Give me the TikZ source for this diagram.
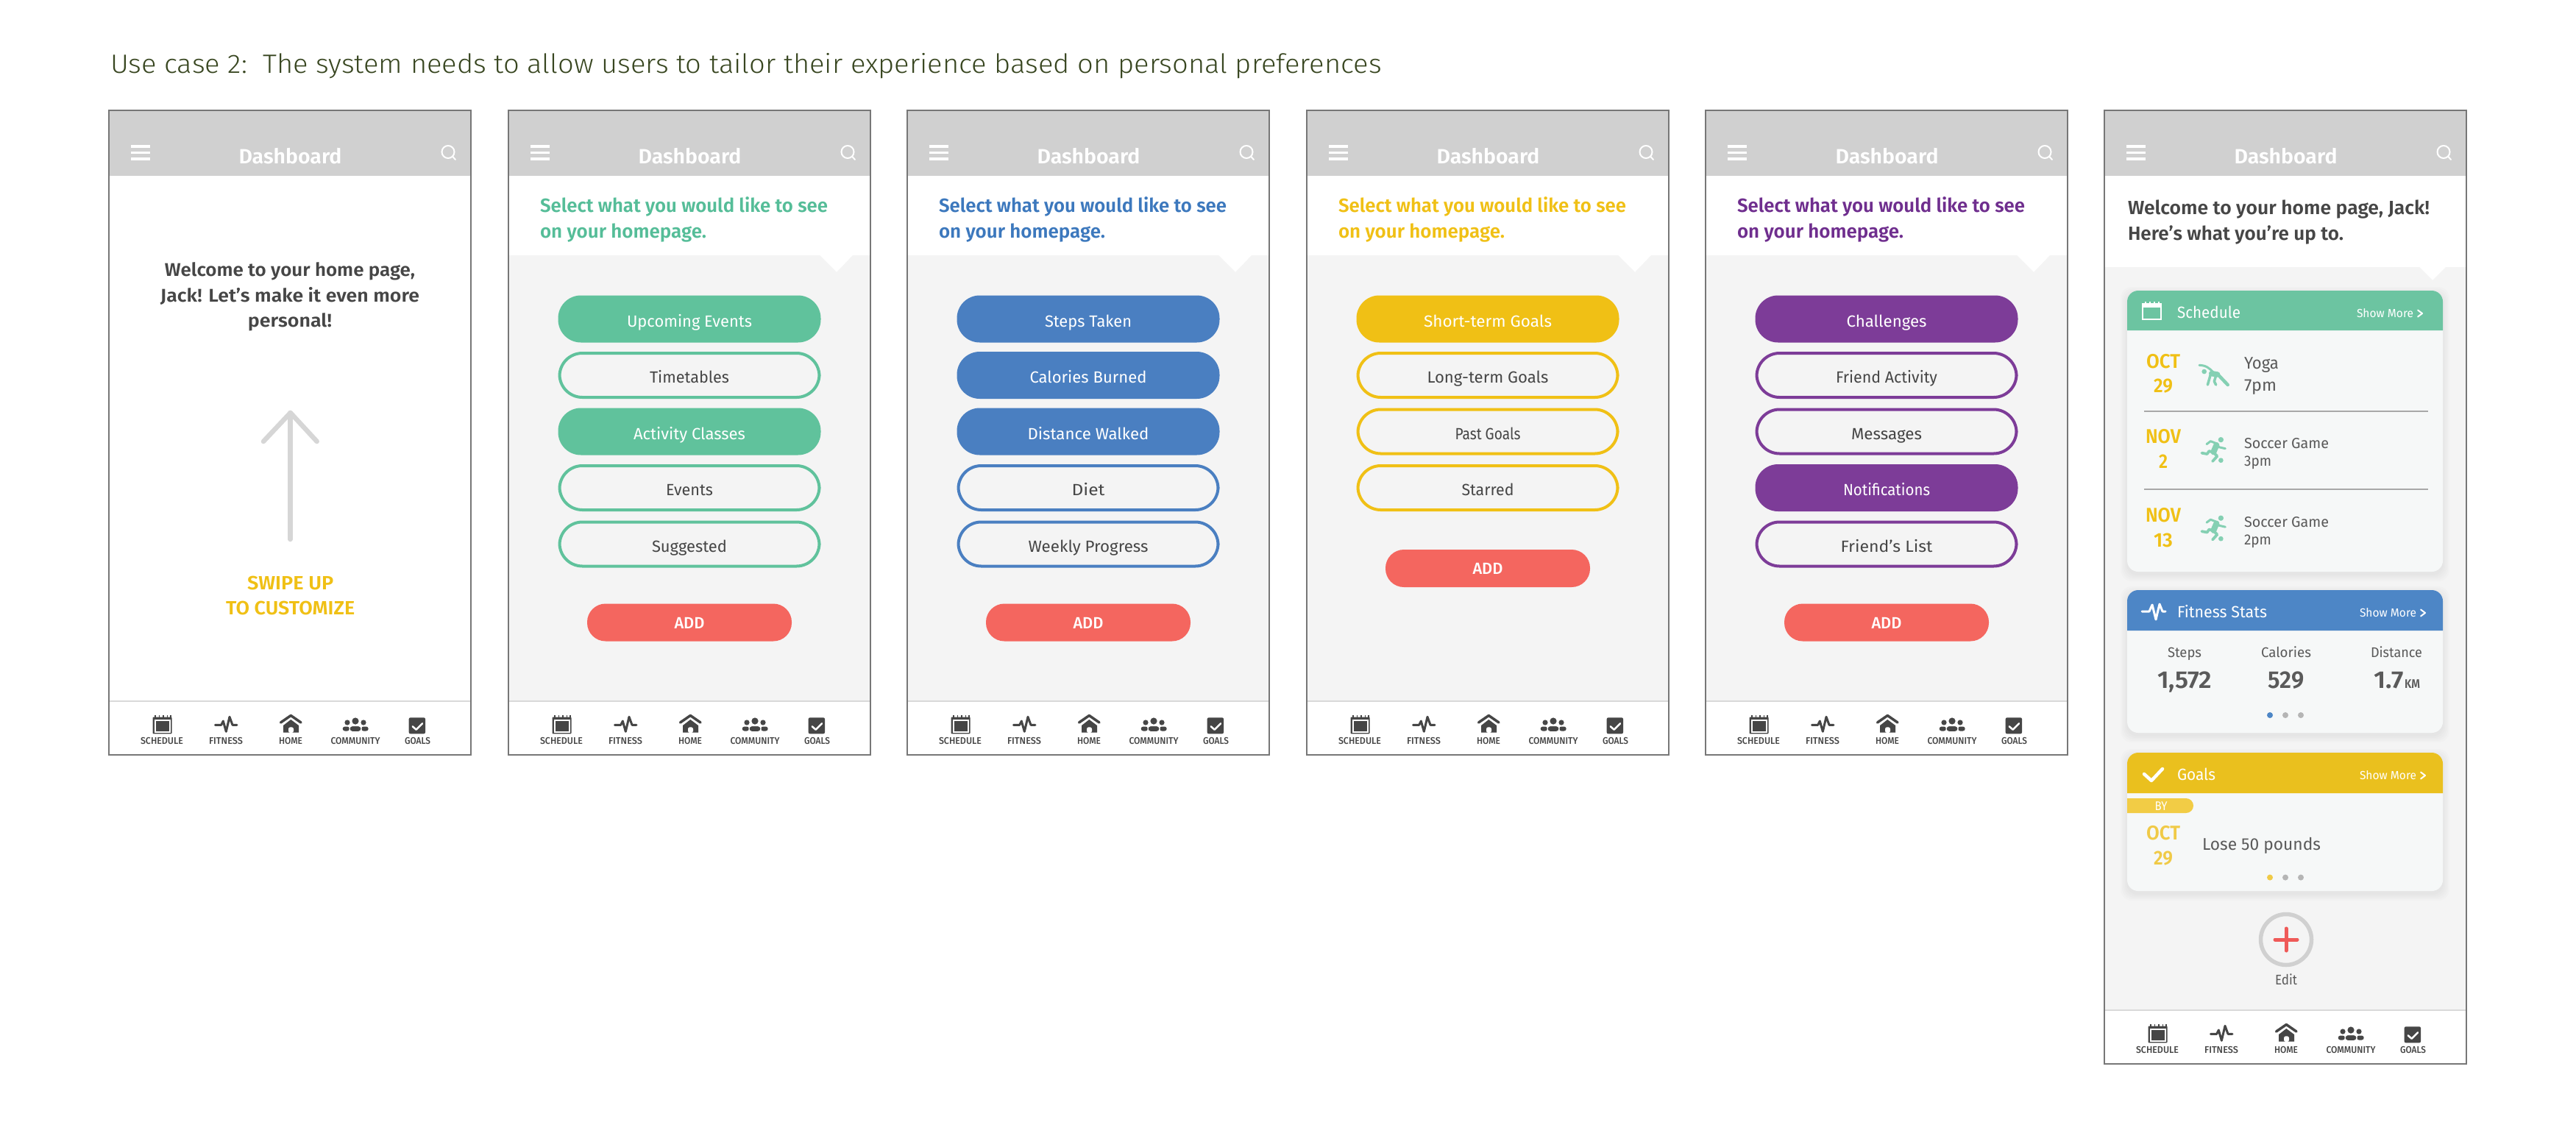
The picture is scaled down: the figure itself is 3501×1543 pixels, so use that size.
\documentclass[tikz,border=0pt]{standalone}
\usepackage{graphicx}
\usepackage{fontspec}
\setmainfont{Fira Sans}
\newfontfamily\fl{Fira Sans Light}
\newfontfamily\fm{Fira Sans Medium}
\newfontfamily\fb{Fira Sans SemiBold}
\newdimen\PXU \PXU=0.2mm
\newcount\nc
\newcommand\fpx[1]{\fontsize{\the\dimexpr#1pt*569/1000\relax}{\the\dimexpr#1pt*569/1000\relax}\selectfont}
\definecolor{framec}{HTML}{777777}
\definecolor{headc}{HTML}{D0D0D0}
\definecolor{panelc}{HTML}{F4F4F4}
\definecolor{linec}{HTML}{D9D9D9}
\definecolor{darkc}{HTML}{464646}
\definecolor{midc}{HTML}{5A5A5A}
\definecolor{titlec}{HTML}{384620}
\definecolor{greenc}{HTML}{60C29C}
\definecolor{greenh}{HTML}{55BD98}
\definecolor{bluec}{HTML}{4A7FC1}
\definecolor{blueh}{HTML}{3C78BD}
\definecolor{yellowc}{HTML}{F0C015}
\definecolor{purplec}{HTML}{7D3C98}
\definecolor{purpleh}{HTML}{6F2E8E}
\definecolor{redc}{HTML}{F4665F}
\definecolor{cardc}{HTML}{F6F8F8}
\definecolor{cgreen}{HTML}{6CC4A1}
\definecolor{cblue}{HTML}{4D86C6}
\definecolor{cyellow}{HTML}{EAC01E}
\definecolor{tagc}{HTML}{F2CC45}
\definecolor{softy}{HTML}{F0CA47}
\definecolor{iconc}{HTML}{85D0B3}
\definecolor{dotc}{HTML}{B5B5B5}
\definecolor{arrowc}{HTML}{D6D6D6}
\definecolor{plusc}{HTML}{EF5A58}
\definecolor{rulec}{HTML}{A8A8A8}
\tikzset{
  txt/.style={inner sep=0pt,outer sep=0pt,anchor=base west},
  ctr/.style={inner sep=0pt,outer sep=0pt,anchor=base},
  titletxt/.style={txt,font=\fl\fpx{36},text=titlec},
  dashtxt/.style={ctr,font=\fb\fpx{28},text=white},
  barlab/.style={ctr,font=\fm\fpx{13},text=darkc},
  headtxt/.style={txt,font=\fb\fpx{26},text=#1},
  welc/.style={ctr,font=\fb\fpx{25},text=darkc},
  swipetxt/.style={ctr,font=\fb\fpx{26},text=yellowc},
  pillbase/.style={rectangle,rounded corners=6.2mm,inner sep=0pt,outer sep=0pt,text height=4.2mm,text depth=0pt,font=\fpx{22},anchor=center},
  pillon/.style={pillbase,fill=#1,text=white,minimum width=71.4mm,minimum height=12.8mm},
  pilloff/.style={pillbase,draw=#1,line width=0.8mm,fill=panelc,text=darkc,minimum width=70.6mm,minimum height=12mm},
  addbtn/.style={rectangle,rounded corners=5mm,inner sep=0pt,outer sep=0pt,fill=redc,text=white,minimum width=55.6mm,minimum height=10.2mm,text height=3.36mm,text depth=0pt,font=\fm\fpx{22},anchor=center},
  iconfill/.style={fill=darkc,draw=none},
  cardhead/.style={txt,font=\fpx{22},text=white},
  moretxt/.style={txt,font=\fpx{16},text=white},
  chev/.style={draw=white,line width=0.4mm,line cap=round,line join=round},
  monthtxt/.style={ctr,font=\fb\fpx{27},text=yellowc},
  softmonth/.style={ctr,font=\fb\fpx{27},text=softy},
  itemtxt/.style={txt,font=\fpx{#1},text=midc},
  stattxt/.style={ctr,font=\fpx{19},text=midc},
  numtxt/.style={ctr,font=\fb\fpx{33},text=midc},
  numl/.style={txt,font=\fb\fpx{#1},text=midc},
  figline/.style={draw=iconc,line cap=round,line join=round},
}
\newcommand\T[5][]{\global\advance\nc by 1 \node[#1] (n\the\nc) at (#2,#3) {\resizebox{#4\PXU}{\height}{#5}};}
\newcommand\PL[4][]{\global\advance\nc by 1 \node[#1] (n\the\nc) at (246,#2) {\resizebox{#3\PXU}{\height}{#4}};}
% phone screen base
\newcommand\ubase[2]{% x0, bottom
  \fill[white] (#1,150) rectangle (#1+492,#2);}
\newcommand\upanel[6]{% x0, top, depth, notch l, notch r, bar y
  \fill[panelc] (#1,#2) -- (#1+#4,#2) -- (#1+446,#2+#3) -- (#1+#5,#2) -- (#1+492,#2) -- (#1+492,#6) -- (#1,#6) -- cycle;}
\newcommand\uhead[1]{%
  \begin{scope}[shift={(#1,0)}]
  \fill[headc] (0,150) rectangle (492,239);
  \fill[white] (30,197) rectangle (56,200.5);
  \fill[white] (30,205.5) rectangle (56,209);
  \fill[white] (30,214) rectangle (56,217.5);
  \draw[white,line width=0.4mm] (461,206.5) circle[radius=8.5];
  \draw[white,line width=0.4mm,line cap=round] (467,212.5) -- (471,217);
  \T[dashtxt]{246.5}{222}{140}{Dashboard}
  \end{scope}}
\newcommand\ubar[2]{% x0, bar y
  \begin{scope}[shift={(#1,#2)}]
  \fill[white] (0,0) rectangle (492,73);
  \draw[linec,line width=0.5mm] (0,0) -- (492,0);
  % schedule
  \fill[iconfill,rounded corners=0.2mm] (59.5,21.5) rectangle (85.5,44.3);
  \fill[white] (61.7,25) rectangle (83.5,42.5);
  \fill[iconfill] (63.5,26.5) rectangle (81.7,40.7);
  \foreach \q in {63,68.5,74,79.5,84}{\fill[iconfill] (\q-0.8,19.3) rectangle (\q+0.8,22);}
  % fitness
  \draw[darkc,line width=0.6mm,line cap=round,line join=round] (144.5,32.3) -- (152.7,32.3) -- (155.3,27) -- (159.3,41.3) -- (164,21.3) -- (168,32.3) -- (174,32.3);
  % home
  \draw[darkc,line width=0.7mm,line cap=round,line join=round] (233.5,29) -- (247.3,19.5) -- (261,29);
  \fill[iconfill] (237,33) -- (247.3,25) -- (258,33) -- (258,42.7) -- (237,42.7) -- cycle;
  \fill[white,rounded corners=0.5mm] (244,43) -- (244,35.3) -- (251,35.3) -- (251,43) -- cycle;
  % community
  \fill[iconfill] (335,27) circle[radius=4.6];
  \fill[iconfill] (324,29) circle[radius=3.6];
  \fill[iconfill] (346,29) circle[radius=3.6];
  \fill[iconfill,rounded corners=0.6mm] (317.7,34.5) rectangle (327,40.5);
  \fill[iconfill,rounded corners=0.6mm] (343,34.5) rectangle (352.7,40.5);
  \draw[white,fill=darkc,line width=0.2mm,rounded corners=0.8mm] (327,33.5) rectangle (343,41.5);
  % goals
  \fill[iconfill,rounded corners=0.4mm] (407.7,22.3) rectangle (430,44.3);
  \draw[white,line width=0.5mm,line cap=round,line join=round] (412.7,34.3) -- (417.7,38.7) -- (426,30.3);
  \T[barlab]{72}{58}{58}{SCHEDULE}
  \T[barlab]{159}{58}{46}{FITNESS}
  \T[barlab]{247}{58}{32}{HOME}
  \T[barlab]{335}{58}{67}{COMMUNITY}
  \T[barlab]{419.5}{58}{35}{GOALS}
  \end{scope}}
\newcommand\uframe[2]{\draw[framec,line width=0.34mm] (#1,150) rectangle (#1+492,#2);}
\newcommand\ushadow[2]{\foreach \e in {9,7,5,3,1}{\fill[black,opacity=0.01,rounded corners=3mm] (2891-\e,#1+4-\e) rectangle (3320+\e,#2+4+\e);}
  \fill[cardc,rounded corners=3mm] (2891,#1) rectangle (3320,#2);}
\newcommand\uhd[3]{\fill[#3] (2891,#2) [rounded corners=3mm] -- (2891,#1) -- (3320,#1) [sharp corners] -- (3320,#2) -- cycle;}
\newcommand\udots[2]{\fill[#2] (3085,#1) circle[radius=4];\fill[dotc] (3106,#1) circle[radius=4];\fill[dotc] (3127,#1) circle[radius=4];}
\begin{document}
\begin{tikzpicture}[x=0.2mm,y=-0.2mm]
\useasboundingbox (0,0) rectangle (3501,1543);
\fill[white] (0,0) rectangle (3501,1543);
\T[titletxt]{150}{99}{1728}{Use case 2:\ \ The system needs to allow users to tailor their experience based on personal preferences}

% --- phone 1
\ubase{148}{1026}
\uhead{148}
\ubar{148}{953}
\uframe{148}{1026}
\begin{scope}[shift={(148,0)}]
\T[welc]{246}{375}{340}{Welcome to your home page,}
\T[welc]{246}{410}{352}{Jack! Let’s make it even more}
\T[welc]{246}{444}{114}{personal!}
\coordinate (atop) at (246.7,561);
\coordinate (abot) at (246.7,733);
\coordinate (awl) at (210,600);
\coordinate (awr) at (282.7,600);
\draw[arrowc,line width=1.3mm,line cap=round,line join=round] (abot) -- (atop);
\draw[arrowc,line width=1.3mm,line cap=round,line join=round] (awl) -- (atop) -- (awr);
\T[swipetxt]{246.7}{801.7}{117}{SWIPE UP}
\T[swipetxt]{246.7}{835}{175}{TO CUSTOMIZE}
\end{scope}

% --- phone 2
\ubase{691}{1026}
\upanel{691}{347}{23}{423}{468}{953}
\uhead{691}
\ubar{691}{953}
\uframe{691}{1026}
\begin{scope}[shift={(691,0)}]
\T[headtxt=greenh]{43}{288.5}{391}{Select what you would like to see}
\T[headtxt=greenh]{43}{323}{226}{on your homepage.}
\PL[pillon=greenc]{433.5}{170}{Upcoming Events}
\PL[pilloff=greenc]{510}{108}{Timetables}
\PL[pillon=greenc]{586.5}{152}{Activity Classes}
\PL[pilloff=greenc]{663}{64}{Events}
\PL[pilloff=greenc]{739.5}{102}{Suggested}
\global\advance\nc by 1 \node[addbtn] (n\the\nc) at (246,846) {\resizebox{41\PXU}{\height}{ADD}};
\end{scope}

% --- phone 3
\ubase{1233}{1026}
\upanel{1233}{347}{23}{423}{468}{953}
\uhead{1233}
\ubar{1233}{953}
\uframe{1233}{1026}
\begin{scope}[shift={(1233,0)}]
\T[headtxt=blueh]{43}{288.5}{391}{Select what you would like to see}
\T[headtxt=blueh]{43}{323}{226}{on your homepage.}
\PL[pillon=bluec]{433.5}{118}{Steps Taken}
\PL[pillon=bluec]{510}{159}{Calories Burned}
\PL[pillon=bluec]{586.5}{165}{Distance Walked}
\PL[pilloff=bluec]{663}{45}{Diet}
\PL[pilloff=bluec]{739.5}{163}{Weekly Progress}
\global\advance\nc by 1 \node[addbtn] (n\the\nc) at (246,846) {\resizebox{41\PXU}{\height}{ADD}};
\end{scope}

% --- phone 4
\ubase{1776}{1026}
\upanel{1776}{347}{23}{423}{468}{953}
\uhead{1776}
\ubar{1776}{953}
\uframe{1776}{1026}
\begin{scope}[shift={(1776,0)}]
\T[headtxt=yellowc]{43}{288.5}{391}{Select what you would like to see}
\T[headtxt=yellowc]{43}{323}{226}{on your homepage.}
\PL[pillon=yellowc]{433.5}{174}{Short-term Goals}
\PL[pilloff=yellowc]{510}{165}{Long-term Goals}
\PL[pilloff=yellowc]{586.5}{89}{Past Goals}
\PL[pilloff=yellowc]{663}{71}{Starred}
\global\advance\nc by 1 \node[addbtn] (n\the\nc) at (246,772.5) {\resizebox{41\PXU}{\height}{ADD}};
\end{scope}

% --- phone 5
\ubase{2318}{1026}
\upanel{2318}{347}{23}{423}{468}{953}
\uhead{2318}
\ubar{2318}{953}
\uframe{2318}{1026}
\begin{scope}[shift={(2318,0)}]
\T[headtxt=purpleh]{43}{288.5}{391}{Select what you would like to see}
\T[headtxt=purpleh]{43}{323}{226}{on your homepage.}
\PL[pillon=purplec]{433.5}{109}{Challenges}
\PL[pilloff=purplec]{510}{138}{Friend Activity}
\PL[pilloff=purplec]{586.5}{96}{Messages}
\PL[pillon=purplec]{663}{118}{Notifications}
\PL[pilloff=purplec]{739.5}{125}{Friend’s List}
\global\advance\nc by 1 \node[addbtn] (n\the\nc) at (246,846) {\resizebox{41\PXU}{\height}{ADD}};
\end{scope}

% --- phone 6
\ubase{2860}{1446}
\upanel{2860}{363}{18}{428}{464}{1373}
\uhead{2860}
\ubar{2860}{1373}
\uframe{2860}{1446}
\T[headtxt=darkc]{2892}{291.5}{410}{Welcome to your home page, Jack!}
\T[headtxt=darkc]{2892}{326}{293}{Here’s what you’re up to.}

% schedule card
\ushadow{395}{777}
\uhd{395}{449}{cgreen}
\draw[white,line width=0.5mm] (2912,413.5) rectangle (2937,434);
\fill[white] (2912,413) rectangle (2937,418);
\foreach \q in {2916,2922,2928,2934}{\fill[white] (\q-0.7,410) rectangle (\q+0.7,414);}
\T[cardhead]{2959}{432}{86}{Schedule}
\T[moretxt]{3203}{431}{77}{Show More}
\draw[chev] (3286,421.5) -- (3292,426) -- (3286,430.5);
\T[monthtxt]{2940}{500}{46}{OCT}
\T[monthtxt]{2940}{533.5}{26}{29}
\T[itemtxt=23]{3050}{501}{47}{Yoga}
\T[itemtxt=23]{3050}{531}{44}{7pm}
\draw[rulec,line width=0.3mm] (2914,559) -- (3300,559);
\T[monthtxt]{2940}{602}{48}{NOV}
\T[monthtxt]{2940}{636}{12}{2}
\T[itemtxt=20]{3050}{609}{115}{Soccer Game}
\T[itemtxt=20]{3050}{633}{37}{3pm}
\draw[rulec,line width=0.3mm] (2914,665) -- (3300,665);
\T[monthtxt]{2940}{709}{48}{NOV}
\T[monthtxt]{2940}{743}{26}{13}
\T[itemtxt=20]{3050}{716}{115}{Soccer Game}
\T[itemtxt=20]{3050}{740}{37}{2pm}
% yoga figure
\begin{scope}[shift={(2975,485)},x=0.0667mm,y=-0.0667mm]
\fill[iconc] (62,60) circle[radius=10];
\draw[figline,line width=0.6mm] (42,34) .. controls (70,34) and (85,48) .. (98,62);
\draw[figline,line width=1.5mm] (92,68) -- (116,72);
\draw[figline,line width=0.7mm] (88,72) -- (76,114);
\draw[figline,line width=0.7mm] (110,76) -- (103,100) -- (110,114);
\draw[figline,line width=0.9mm] (116,70) -- (158,114);
\end{scope}
% soccer figures
\foreach \yy in {585,691.5}{
\begin{scope}[shift={(2975,\yy)},x=0.0667mm,y=-0.0667mm]
\fill[iconc] (130,38) circle[radius=11];
\fill[iconc] (130,122) circle[radius=10];
\draw[figline,line width=1.6mm] (112,60) -- (100,88);
\draw[figline,line width=0.6mm] (72,56) -- (88,44) -- (114,54) -- (122,68) -- (148,74);
\draw[figline,line width=0.75mm] (100,90) -- (82,84) -- (74,96) -- (52,92);
\draw[figline,line width=0.75mm] (100,90) -- (115,105) -- (96,126);
\end{scope}}

% fitness card
\ushadow{802}{996}
\uhd{802}{857}{cblue}
\draw[white,line width=0.6mm,line cap=round,line join=round] (2911,831) -- (2921,831) -- (2925,822) -- (2930,842) -- (2935,821) -- (2939,831) -- (2943,831);
\T[cardhead]{2959}{839}{122}{Fitness Stats}
\T[moretxt]{3207}{838}{77}{Show More}
\draw[chev] (3290,828.5) -- (3296,833) -- (3290,837.5);
\T[stattxt]{2969}{893}{46}{Steps}
\T[stattxt]{3107}{893}{68}{Calories}
\T[stattxt]{3257}{893}{70}{Distance}
\T[numtxt]{2969}{935}{74}{1,572}
\T[numtxt]{3107}{935}{49}{529}
\T[numl=33]{3226}{935}{41}{1.7}
\T[numl=17]{3268}{935}{21}{KM}
\udots{972}{cblue}

% goals card
\ushadow{1023}{1211}
\uhd{1023}{1078}{cyellow}
\draw[white,line width=0.9mm,line cap=round,line join=round] (2914,1052) -- (2924,1061) -- (2939,1045);
\T[cardhead]{2959}{1060}{52}{Goals}
\T[moretxt]{3207}{1059}{77}{Show More}
\draw[chev] (3290,1049.5) -- (3296,1054) -- (3290,1058.5);
\fill[tagc] (2891,1085) [rounded corners=2mm] -- (2981,1085) -- (2981,1105) [sharp corners] -- (2891,1105) -- cycle;
\T[ctr,font=\fpx{17},text=white]{2937}{1101}{17}{BY}
\T[softmonth]{2940}{1141}{46}{OCT}
\T[softmonth]{2940}{1175.5}{26}{29}
\T[itemtxt=23]{2993}{1155}{161}{Lose 50 pounds}
\udots{1192.6}{softy}

% edit button
\node[circle,draw=headc,line width=1.1mm,fill=panelc,minimum size=13.8mm,inner sep=0pt] (editbtn) at (3107,1277) {};
\draw[plusc,line width=1mm,line cap=round] (3092,1277) -- (3122,1277);
\draw[plusc,line width=1mm,line cap=round] (3107,1262) -- (3107,1292);
\T[stattxt]{3107}{1338}{30}{Edit}
\end{tikzpicture}
\end{document}
